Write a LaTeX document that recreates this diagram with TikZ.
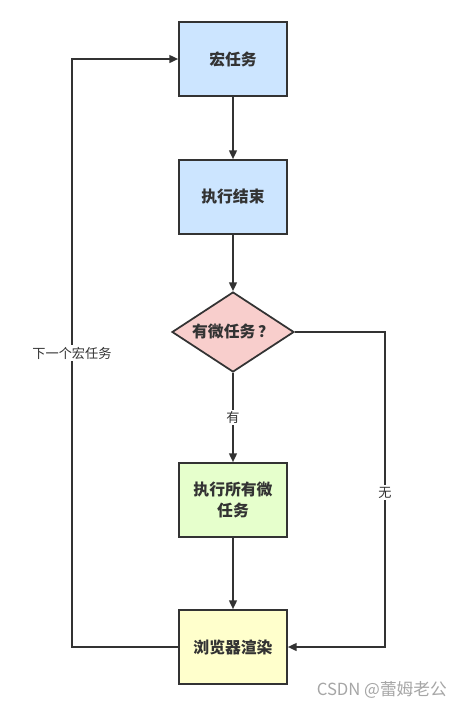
\documentclass[tikz,border=0pt]{standalone}
\usepackage{fontspec}
\setmainfont{Noto Sans CJK SC}
\usetikzlibrary{shapes.geometric,arrows.meta}
\definecolor{linegray}{HTML}{333333}
\definecolor{macroblue}{HTML}{CCE5FF}
\definecolor{askpink}{HTML}{F8CECC}
\definecolor{microgreen}{HTML}{E6FFCC}
\definecolor{renderyellow}{HTML}{FFFFCC}
\tikzset{
  stepbox/.style={draw=linegray,line width=1pt,minimum width=2.16cm,minimum height=1.48cm,
    font=\fontsize{9}{12}\selectfont\bfseries,text=linegray,align=center,inner sep=1pt},
  flow/.style={draw=linegray,line width=0.85pt,-{Triangle[length=5pt,width=4.5pt]}},
  lbl/.style={fill=white,font=\fontsize{7.5}{9}\selectfont,text=linegray,inner sep=1pt}
}
\begin{document}
\begin{tikzpicture}[x=0.02cm,y=-0.02cm]
\useasboundingbox[fill=white] (0,0) rectangle (465,708);
% boxes
\node[stepbox,fill=macroblue] (macro) at (233,59) {宏任务};
\node[stepbox,fill=macroblue] (done) at (233,197) {执行结束};
\node[draw=linegray,line width=1pt,diamond,aspect=1.525,fill=askpink,minimum width=2.44cm,minimum height=1.6cm,
  inner sep=0pt,font=\fontsize{9}{12}\selectfont\bfseries,text=linegray] (ask) at (233,332) {有微任务\,？};
\node[stepbox,fill=microgreen] (micro) at (233,500) {执行所有微\\任务};
\node[stepbox,fill=renderyellow] (render) at (233,647) {浏览器渲染};
\coordinate (lefttop) at (72,59);
\coordinate (leftbot) at (72,647);
\coordinate (righttop) at (385,332);
\coordinate (rightbot) at (385,647);
% connectors
\draw[flow] (macro) -- (done);
\draw[flow] (done) -- (ask);
\draw[flow] (ask) -- node[lbl,pos=0.5] {有} (micro);
\draw[flow] (micro) -- (render);
\draw[flow] (ask.east) -- (righttop) -- node[lbl,pos=0.51] {无} (rightbot) -- (render.east);
\draw[flow] (render.west) -- (leftbot) -- node[lbl,pos=0.5] {下一个宏任务} (lefttop) -- (macro.west);
% watermark
\node[text=gray!70,font=\fontsize{9.5}{11}\selectfont,anchor=east] (mark) at (453,690) {CSDN @蕾姆老公};
\end{tikzpicture}
\end{document}
